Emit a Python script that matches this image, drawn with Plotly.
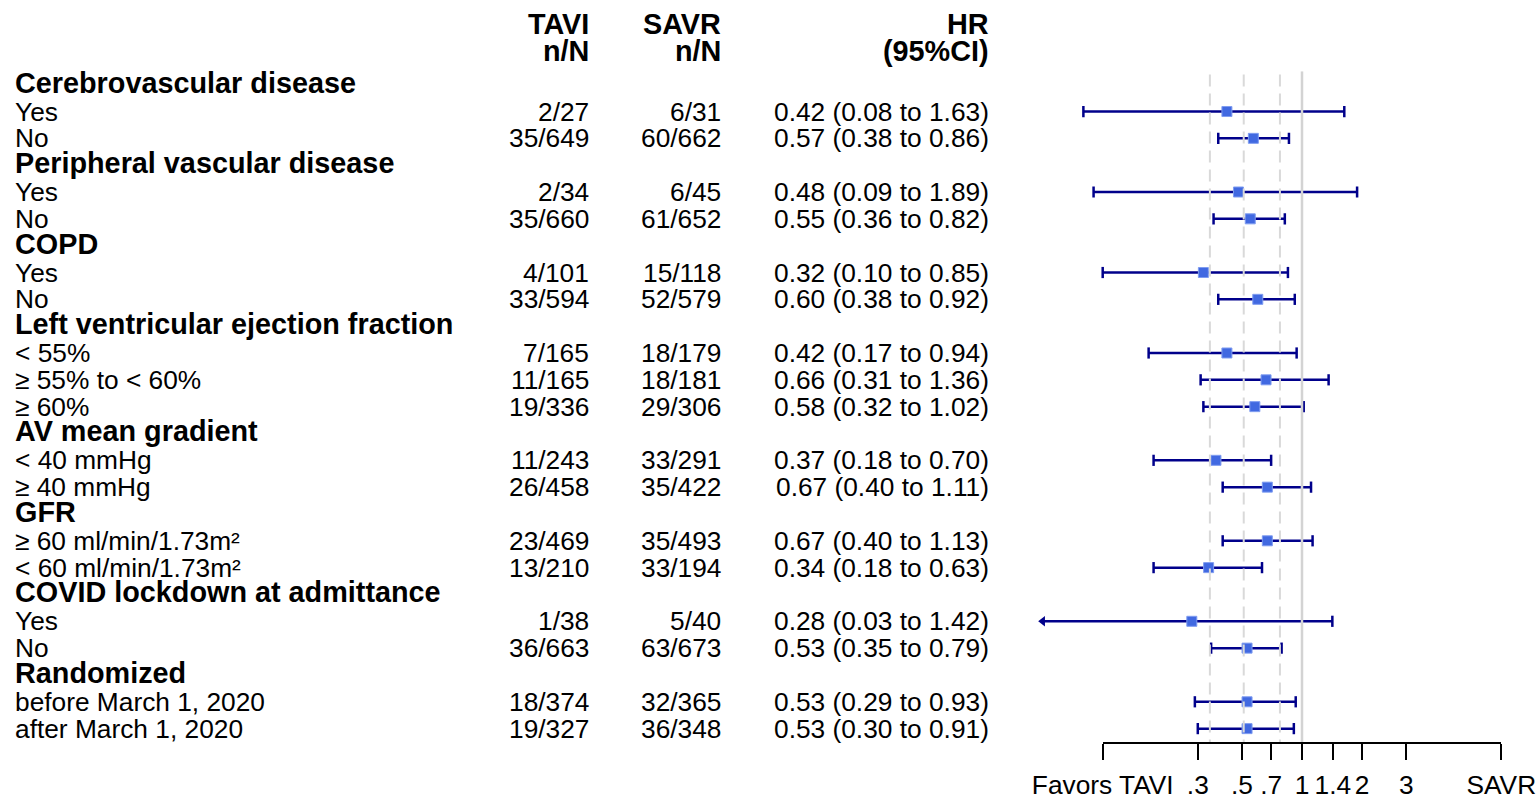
import math
import plotly.graph_objects as go

# ---------------- data ----------------
labels = [
    "Cerebrovascular disease", "Yes", "No",
    "Peripheral vascular disease", "Yes", "No",
    "COPD", "Yes", "No",
    "Left ventricular ejection fraction", "< 55%", "≥ 55% to < 60%", "≥ 60%",
    "AV mean gradient", "< 40 mmHg", "≥ 40 mmHg",
    "GFR", "≥ 60 ml/min/1.73m²", "< 60 ml/min/1.73m²",
    "COVID lockdown at admittance", "Yes", "No",
    "Randomized", "before March 1, 2020", "after March 1, 2020",
]
is_group = [True, False, False,
            True, False, False,
            True, False, False,
            True, False, False, False,
            True, False, False,
            True, False, False,
            True, False, False,
            True, False, False]
tavi_nN = ["", "2/27", "35/649",
           "", "2/34", "35/660",
           "", "4/101", "33/594",
           "", "7/165", "11/165", "19/336",
           "", "11/243", "26/458",
           "", "23/469", "13/210",
           "", "1/38", "36/663",
           "", "18/374", "19/327"]
savr_nN = ["", "6/31", "60/662",
           "", "6/45", "61/652",
           "", "15/118", "52/579",
           "", "18/179", "18/181", "29/306",
           "", "33/291", "35/422",
           "", "35/493", "33/194",
           "", "5/40", "63/673",
           "", "32/365", "36/348"]
hr = [None, 0.42, 0.57,
      None, 0.48, 0.55,
      None, 0.32, 0.60,
      None, 0.42, 0.66, 0.58,
      None, 0.37, 0.67,
      None, 0.67, 0.34,
      None, 0.28, 0.53,
      None, 0.53, 0.53]
ci_lo = [None, 0.08, 0.38,
         None, 0.09, 0.36,
         None, 0.10, 0.38,
         None, 0.17, 0.31, 0.32,
         None, 0.18, 0.40,
         None, 0.40, 0.18,
         None, 0.03, 0.35,
         None, 0.29, 0.30]
ci_hi = [None, 1.63, 0.86,
         None, 1.89, 0.82,
         None, 0.85, 0.92,
         None, 0.94, 1.36, 1.02,
         None, 0.70, 1.11,
         None, 1.13, 0.63,
         None, 1.42, 0.79,
         None, 0.93, 0.91]
header_cols = [["TAVI", "n/N"], ["SAVR", "n/N"], ["HR", "(95%CI)"]]
ref_dashed = [0.345, 0.51, 0.775]
null_value = 1.0
clip_low = 0.05
tick_vals = [0.1, 0.3, 0.5, 0.7, 1, 1 / 0.7, 2, 1 / 0.3, 10]
tick_text = ["Favors TAVI", ".3", ".5", ".7", "1", "1.4", "2", "3", "SAVR"]

# ---------------- layout constants (pixels) ----------------
W, H = 1540, 801
row1_px, row_step = 84.7, 26.83
n_rows = len(labels)
top_px = row1_px - row_step / 2
bot_px = row1_px + (n_rows - 1) * row_step + row_step / 2
one_px, px_dec = 1302.0, 199.3
plot_left_px, plot_right_px = 1030.0, 1540.0

FONT = "Liberation Sans, Arial, sans-serif"
REG = 26.3
BOLD = 28.8
NAVY = "#00008B"
BLUE = "#4169E1"

rows = list(range(1, n_rows + 1))

fig = go.Figure()

# reference lines (on display axis x2)
fig.add_trace(go.Scatter(
    x=[null_value, null_value], y=[0.5, n_rows + 0.5], xaxis="x2", yaxis="y",
    mode="lines", line=dict(color="#d3d3d3", width=2.5), hoverinfo="skip", showlegend=False))
dx, dy = [], []
for v in ref_dashed:
    dx += [v, v, None]
    dy += [0.62, n_rows + 0.5, None]
fig.add_trace(go.Scatter(
    x=dx, y=dy, xaxis="x2", yaxis="y", mode="lines",
    line=dict(color="#d9d9d9", width=2, dash="12px,7px"), hoverinfo="skip", showlegend=False))

# CI segments
sx, sy, cx, cy, ax_, ay = [], [], [], [], [], []
for r, h, lo, hi in zip(rows, hr, ci_lo, ci_hi):
    if h is None:
        continue
    left = lo if lo >= clip_low else clip_low
    sx += [left, hi, None]
    sy += [r, r, None]
    if lo >= clip_low:
        cx.append(lo); cy.append(r)
    else:
        ax_.append(clip_low); ay.append(r)
    cx.append(hi); cy.append(r)
fig.add_trace(go.Scatter(x=sx, y=sy, mode="lines", line=dict(color=NAVY, width=2.5),
                         hoverinfo="skip", showlegend=False))
fig.add_trace(go.Scatter(x=cx, y=cy, mode="markers",
                         marker=dict(symbol="line-ns", size=8, line=dict(color=NAVY, width=2.5)),
                         hoverinfo="skip", showlegend=False))
fig.add_trace(go.Scatter(x=ax_, y=ay, mode="markers",
                         marker=dict(symbol="triangle-left", size=9, color=NAVY),
                         hoverinfo="skip", showlegend=False))
px_ = [h for h in hr if h is not None]
py_ = [r for r, h in zip(rows, hr) if h is not None]
fig.add_trace(go.Scatter(x=px_, y=py_, mode="markers",
                         marker=dict(symbol="square", size=10, color=BLUE,
                                     line=dict(color="#7f9cf0", width=1)),
                         showlegend=False))

# text columns
annotations = []
col_label_x = 13
col_tavi_x = 591
col_savr_x = 723
col_hr_x = 991
for r, lab, g, t, s, h, lo, hi in zip(rows, labels, is_group, tavi_nN, savr_nN, hr, ci_lo, ci_hi):
    annotations.append(dict(x=col_label_x / W, y=r, xref="paper", yref="y",
                            text=f"<b>{lab}</b>" if g else lab,
                            xanchor="left", yanchor="middle", showarrow=False,
                            yshift=2 if g else 0,
                            font=dict(family=FONT, size=BOLD if g else REG, color="black")))
    if h is None:
        continue
    for xx, txt in [(col_tavi_x, t), (col_savr_x, s),
                    (col_hr_x, f"{h:.2f} ({lo:.2f} to {hi:.2f})")]:
        annotations.append(dict(x=xx / W, y=r, xref="paper", yref="y", text=txt,
                                xanchor="right", yanchor="middle", showarrow=False,
                                font=dict(family=FONT, size=REG, color="black")))
header_y_px = [24, 51]
for xx, lines in zip([col_tavi_x, col_savr_x, col_hr_x], header_cols):
    for ypx, txt in zip(header_y_px, lines):
        annotations.append(dict(x=xx / W, y=1 - ypx / H, xref="paper", yref="paper",
                                text=f"<b>{txt}</b>", xanchor="right", yanchor="middle",
                                showarrow=False, font=dict(family=FONT, size=BOLD, color="black")))

ydom = [1 - bot_px / H, 1 - top_px / H]
fig.update_layout(
    width=W, height=H,
    margin=dict(l=0, r=0, t=0, b=0),
    plot_bgcolor="rgba(0,0,0,0)", paper_bgcolor="white",
    annotations=annotations,
    xaxis=dict(type="log", domain=[plot_left_px / W, plot_right_px / W],
               range=[(plot_left_px - one_px) / px_dec, (plot_right_px - one_px) / px_dec],
               visible=False, automargin=False),
    xaxis2=dict(type="log", domain=[(one_px - px_dec) / W, (one_px + px_dec) / W],
                range=[-1, 1], anchor="y", showgrid=False, zeroline=False,
                showline=True, linecolor="black", linewidth=2,
                ticks="outside", ticklen=16, tickwidth=2, tickcolor="black",
                tickvals=tick_vals, ticktext=tick_text, tickangle=0,
                ticklabelstandoff=2,
                tickfont=dict(family=FONT, size=REG, color="black"),
                automargin=False),
    yaxis=dict(domain=ydom, range=[n_rows + 0.5, 0.5], visible=False, automargin=False),
    showlegend=False,
)

fig.write_html("out.html", config={"displayModeBar": False},
               post_script="document.body.style.margin='0px';")
